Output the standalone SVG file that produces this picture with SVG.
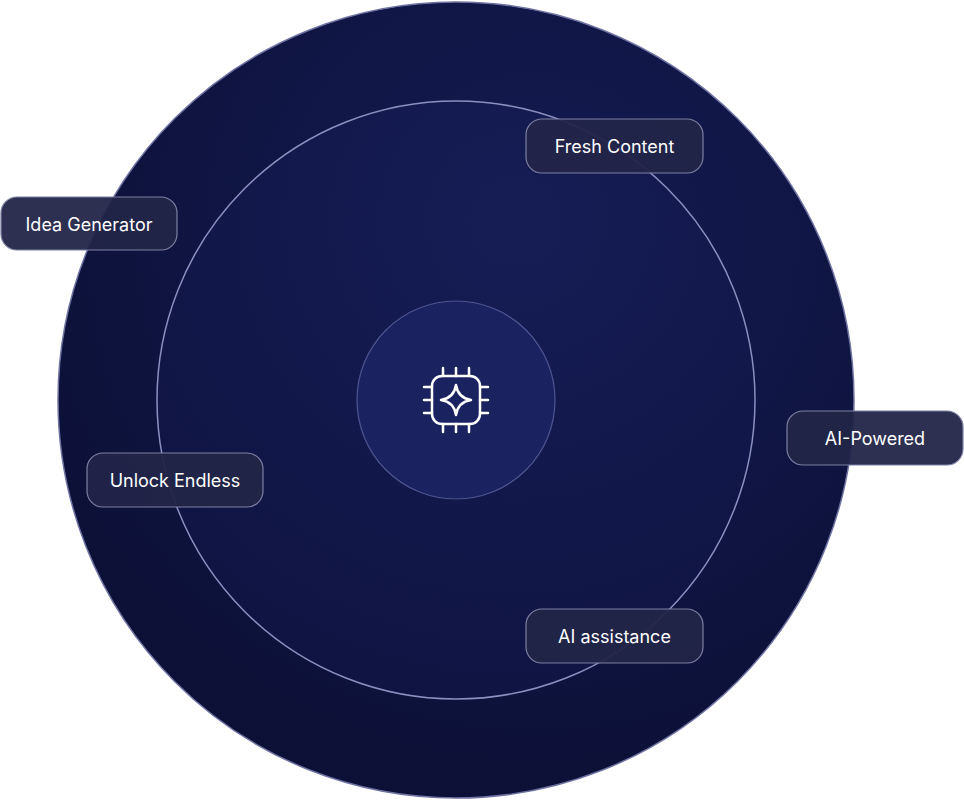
<svg xmlns="http://www.w3.org/2000/svg" width="964" height="800" viewBox="0 0 964 800">
<defs>
<radialGradient id="g1" cx="0.6" cy="0.3" r="0.8"><stop offset="0" stop-color="#141b52"/><stop offset="1" stop-color="#0b0f33"/></radialGradient>
<radialGradient id="g2" cx="0.6" cy="0.2" r="0.9"><stop offset="0" stop-color="#161d55"/><stop offset="1" stop-color="#0e1340"/></radialGradient>
<style>
.pill{fill:#222548;stroke:#7d80a3;stroke-width:1.2;fill-opacity:0.95}
.t{font-family:Inter,"Liberation Sans",sans-serif;font-size:18px;fill:#ffffff;text-anchor:middle;dominant-baseline:central}
.ic{fill:none;stroke:#ffffff;stroke-width:2.5;stroke-linecap:round;stroke-linejoin:round}
</style>
</defs>
<rect width="964" height="800" fill="#ffffff"/>
<g id="rings">
<circle cx="456" cy="400" r="398" fill="url(#g1)" stroke="#6f73a3" stroke-width="1.5"/>
<circle cx="456" cy="400" r="299" fill="url(#g2)" stroke="#8c90c0" stroke-width="1.5"/>
<circle cx="456" cy="400" r="99" fill="#1b2260" stroke="#4f5590" stroke-width="1.2"/>
</g>
<g id="icon" class="ic">
<rect x="432" y="376" width="48" height="48" rx="10"/>
<path d="M443 368v8M456 368v8M469 368v8M443 424v8M456 424v8M469 424v8M424 387h8M424 400h8M424 413h8M480 387h8M480 400h8M480 413h8"/>
<path d="M456 385Q458 398 471 400Q458 402 456 415Q454 402 441 400Q454 398 456 385Z"/>
</g>
<g id="fresh"><rect class="pill" x="526" y="119" width="177" height="54" rx="16"/><text class="t" x="614.5" y="146">Fresh Content</text></g>
<g id="idea"><rect class="pill" x="1" y="197" width="176" height="53" rx="16"/><text class="t" x="89" y="224">Idea Generator</text></g>
<g id="aipowered"><rect class="pill" x="787" y="411" width="176" height="54" rx="16"/><text class="t" x="875" y="438">AI-Powered</text></g>
<g id="unlock"><rect class="pill" x="87" y="453" width="176" height="54" rx="16"/><text class="t" x="175" y="480">Unlock Endless</text></g>
<g id="assist"><rect class="pill" x="526" y="609" width="177" height="54" rx="16"/><text class="t" x="614.5" y="636">AI assistance</text></g>
<g id="connectors"/>
</svg>
